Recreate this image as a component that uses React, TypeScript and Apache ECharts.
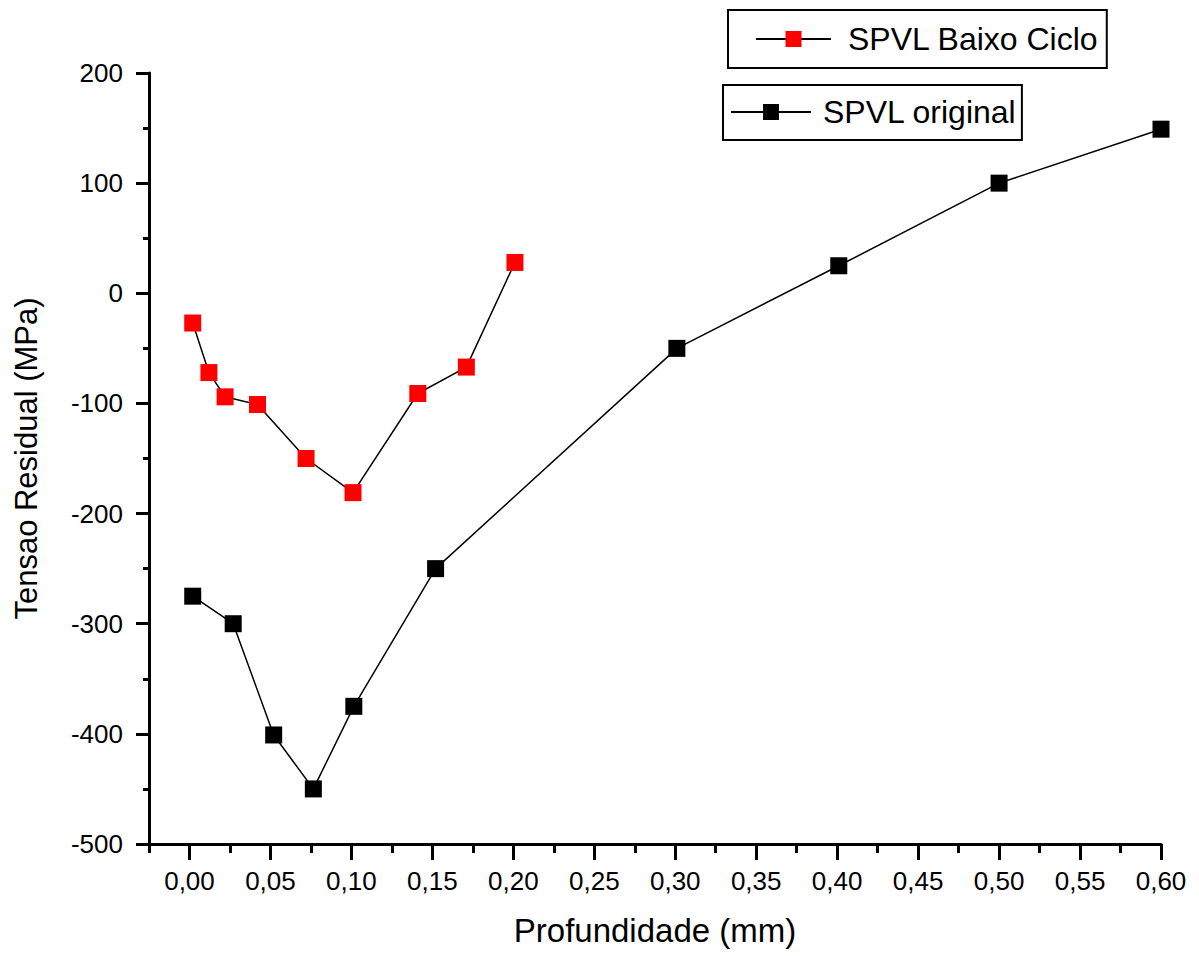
import React, { useEffect, useRef } from "react";
import * as echarts from "echarts";

const redX = [0.002, 0.012, 0.022, 0.042, 0.072, 0.101, 0.141, 0.171, 0.201];
const redY = [-27, -72, -94, -101, -150, -181, -91, -67, 28];
const blackX = [0.002, 0.027, 0.052, 0.0765, 0.1015, 0.152, 0.301, 0.401, 0.5, 0.6];
const blackY = [-275, -300, -401, -450, -375, -250, -50, 25, 100, 149];
const xMajorTicks = [0, 0.05, 0.1, 0.15, 0.2, 0.25, 0.3, 0.35, 0.4, 0.45, 0.5, 0.55, 0.6];
const xMinorTicks = [-0.025, 0.025, 0.075, 0.125, 0.175, 0.225, 0.275, 0.325, 0.375, 0.425, 0.475, 0.525, 0.575];
const seriesNames = ["SPVL Baixo Ciclo", "SPVL original"];

const FONT = "'Liberation Sans', Arial, sans-serif";

export default function App() {
  const ref = useRef<HTMLDivElement>(null);
  useEffect(() => {
    if (!ref.current) return;
    const chart = echarts.init(ref.current, null, { renderer: "svg" });
    const axisLineStyle = { color: "#000", width: 3 };
    chart.setOption({
      animation: false,
      backgroundColor: "#fff",
      textStyle: { fontFamily: FONT },
      grid: { left: 149, right: 38, top: 73, bottom: 112, containLabel: false },
      legend: [
        {
          data: [seriesNames[0]],
          left: 728,
          top: 10,
          orient: "horizontal",
          itemWidth: 75,
          itemHeight: 20,
          padding: [13, 8, 13, 27],
          borderColor: "#000",
          borderWidth: 2,
          textStyle: { fontSize: 32, color: "#000", fontFamily: FONT, padding: [0, 0, 0, 12] },
        },
        {
          data: [seriesNames[1]],
          left: 723,
          top: 85,
          orient: "horizontal",
          itemWidth: 80,
          itemHeight: 20,
          padding: [11, 5, 12, 7],
          borderColor: "#000",
          borderWidth: 2,
          textStyle: { fontSize: 32, color: "#000", fontFamily: FONT, padding: [0, 0, 0, 7] },
        },
      ],
      xAxis: [
        {
          type: "value",
          min: -0.025,
          max: 0.6,
          position: "bottom",
          name: "Profundidade (mm)",
          nameLocation: "middle",
          nameGap: 70,
          nameTextStyle: { fontSize: 33, color: "#000", fontFamily: FONT },
          axisLine: { show: true, onZero: false, lineStyle: axisLineStyle },
          axisTick: { show: true, customValues: xMajorTicks, length: 16, lineStyle: axisLineStyle },
          axisLabel: {
            customValues: xMajorTicks,
            margin: 24,
            fontSize: 26,
            color: "#000",
            fontFamily: FONT,
            formatter: (v: number) => v.toFixed(2).replace(".", ","),
          },
          splitLine: { show: false },
        },
        {
          type: "value",
          min: -0.025,
          max: 0.6,
          position: "bottom",
          axisLine: { show: false, onZero: false },
          axisTick: { show: true, customValues: xMinorTicks, length: 9, lineStyle: axisLineStyle },
          axisLabel: { show: false },
          splitLine: { show: false },
        },
      ],
      yAxis: {
        type: "value",
        min: -500,
        max: 200,
        interval: 100,
        name: "Tensao Residual (MPa)",
        nameLocation: "middle",
        nameGap: 107,
        nameTextStyle: { fontSize: 31, color: "#000", fontFamily: FONT },
        axisLine: { show: true, onZero: false, lineStyle: axisLineStyle },
        axisTick: { show: true, length: 13, lineStyle: axisLineStyle },
        minorTick: { show: true, splitNumber: 2, length: 6, lineStyle: axisLineStyle },
        axisLabel: { margin: 26, fontSize: 26, color: "#000", fontFamily: FONT },
        splitLine: { show: false },
        minorSplitLine: { show: false },
      },
      series: [
        {
          name: seriesNames[0],
          type: "line",
          xAxisIndex: 0,
          data: redX.map((x, i) => [x, redY[i]]),
          symbol: "rect",
          symbolSize: 17,
          itemStyle: { color: "#ff0000" },
          lineStyle: { color: "#000", width: 1.5 },
          z: 3,
        },
        {
          name: seriesNames[1],
          type: "line",
          xAxisIndex: 0,
          data: blackX.map((x, i) => [x, blackY[i]]),
          symbol: "rect",
          symbolSize: 17,
          itemStyle: { color: "#000" },
          lineStyle: { color: "#000", width: 1.5 },
          z: 2,
        },
      ],
    });
    return () => chart.dispose();
  }, []);
  return (
    <div
      ref={ref}
      style={{ position: "fixed", left: 0, top: 0, width: 1199, height: 956, background: "#fff" }}
    />
  );
}
